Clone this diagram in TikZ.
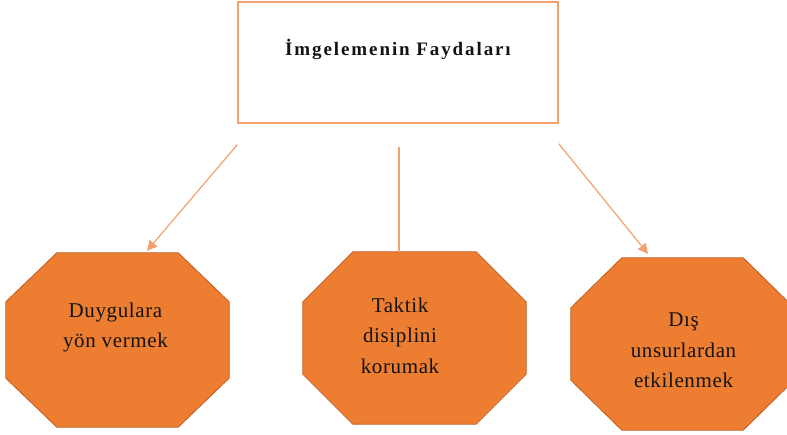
\documentclass[tikz,border=0pt]{standalone}
\usepackage{fontspec}
\setmainfont{Liberation Serif}
\newfontfamily\titlefont[LetterSpace=10]{Liberation Serif}
\newfontfamily\labelfont[LetterSpace=3]{Liberation Serif}
\usetikzlibrary{arrows.meta,calc}

\definecolor{accent}{RGB}{237,125,49}
\definecolor{accentdark}{RGB}{190,95,35}
\definecolor{linkline}{RGB}{244,160,108}
\definecolor{ink}{RGB}{20,20,20}

\tikzset{
  titlebox/.style={draw=linkline, line width=1.4pt, fill=white, inner sep=0,
    minimum width=320pt, minimum height=121pt},
  titletext/.style={font=\titlefont\bfseries\fontsize{19}{22}\selectfont, text=ink, inner sep=0},
  octbase/.style={inner sep=0, minimum width=223pt},
  octagon/.style={fill=accent, draw=accentdark, line width=0.8pt},
  labeltext/.style={font=\labelfont\fontsize{21}{30.5}\selectfont, align=center, text=ink, inner sep=0, anchor=north},
  link/.style={draw=linkline, line width=1.2pt},
  tip/.style={-{Triangle[length=10pt,width=10pt]}}
}

% fill an octagon inside the frame of a named node: name, horizontal cut, vertical cut
\newcommand\octfill[3]{%
  \path[octagon] ([xshift=#2]#1.north west) -- ([xshift=-#2]#1.north east)
    -- ([yshift=-#3]#1.north east) -- ([yshift=#3]#1.south east)
    -- ([xshift=-#2]#1.south east) -- ([xshift=#2]#1.south west)
    -- ([yshift=#3]#1.south west) -- ([yshift=-#3]#1.north west) -- cycle;}

\begin{document}
\begin{tikzpicture}[x=1pt,y=-1pt]
\useasboundingbox (0,0) rectangle (787,435);

% heading
\node[titlebox] (top) at (398,62.5) {};
\node[titletext, anchor=base] (title) at (398,56) {İmgelemenin Faydaları};

% the three benefits
\node[octbase, minimum height=174pt] (o1) at (117.5,340) {};
\node[octbase, minimum height=172pt] (o2) at (414.5,338) {};
\node[octbase, minimum height=172pt] (o3) at (682.5,344) {};
\octfill{o1}{51}{49}
\octfill{o2}{50}{50}
\octfill{o3}{51}{50}

\node[labeltext] (t1) at (115.5,302.7) {Duygulara\\yön vermek};
\node[labeltext] (t2) at (400,297.7) {Taktik\\disiplini\\korumak};
\node[labeltext] (t3) at (683.5,313) {Dış\\unsurlardan\\etkilenmek};

% connectors
\coordinate (s1) at ([yshift=-21pt]top.south west);
\coordinate (s2) at ([xshift=1pt,yshift=-23pt]top.south);
\coordinate (s3) at ([yshift=-20pt]top.south east);
\coordinate (e1) at ([xshift=29.5pt,yshift=2pt]o1.north);
\coordinate (e3) at ([xshift=-34.5pt,yshift=4pt]o3.north);

\draw[link,tip] (s1) -- (e1);
\draw[link] (s2) -- (s2 |- o2.north);
\draw[link,tip] (s3) -- (e3);
\end{tikzpicture}
\end{document}
